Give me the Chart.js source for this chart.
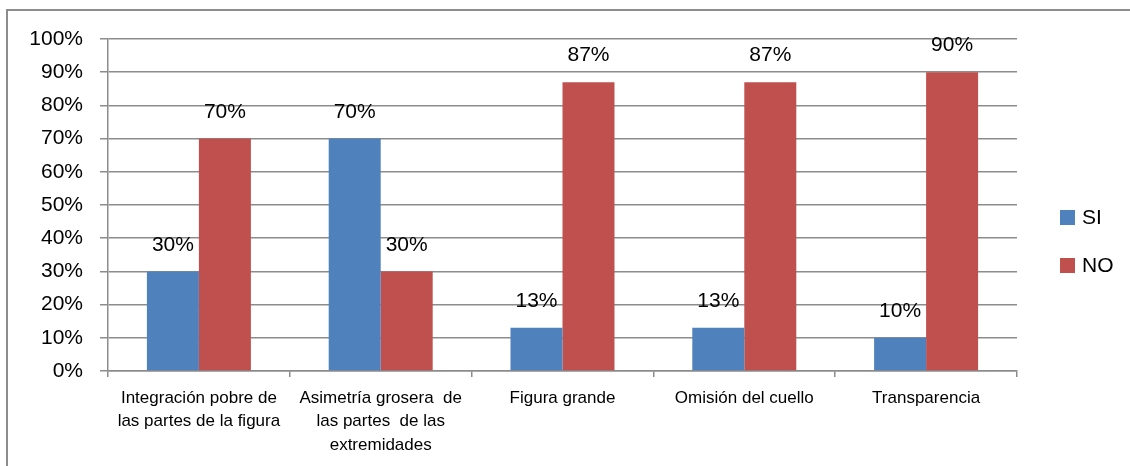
<!DOCTYPE html>
<html>
<head>
<meta charset="utf-8">
<script src="https://cdn.jsdelivr.net/npm/chart.js@4"></script>
<style>
  html, body { margin: 0; padding: 0; background: #fff; overflow: hidden; }
  #frame { position: absolute; left: 6px; top: 9px; width: 1200px; height: 520px;
           border-left: 2px solid #8c8c8c; border-top: 2px solid #8c8c8c; }
  #wrap { position: absolute; left: 0; top: 0; width: 1130px; height: 466px; }
</style>
</head>
<body>
<div id="frame"></div>
<div id="wrap"><canvas id="chart" width="1130" height="466"></canvas></div>
<script>
// categories and values
const categories = [
    ['Integración pobre de', 'las partes de la figura'],
    ['Asimetría grosera  de', 'las partes  de las', 'extremidades'],
    'Figura grande',
    'Omisión del cuello',
    'Transparencia'
];
const siValues = [30, 70, 13, 13, 10];
const noValues = [70, 30, 87, 87, 90];
const seriesNames = ['SI', 'NO'];
const seriesColors = ['#4F81BD', '#C0504D'];
const yTicks = [0, 10, 20, 30, 40, 50, 60, 70, 80, 90, 100];

const FONT = '"Liberation Sans", Arial, sans-serif';

// value labels above each bar
const barLabels = {
    id: 'barLabels',
    afterDatasetsDraw(chart) {
        const ctx = chart.ctx;
        ctx.save();
        ctx.font = '21px ' + FONT;
        ctx.fillStyle = '#000';
        ctx.textAlign = 'center';
        ctx.textBaseline = 'bottom';
        chart.data.datasets.forEach((ds, i) => {
            chart.getDatasetMeta(i).data.forEach((bar, j) => {
                ctx.fillText(ds.data[j] + '%', bar.x, bar.y - 16);
            });
        });
        ctx.restore();
    }
};

// legend on the right like the original
const sideLegend = {
    id: 'sideLegend',
    afterDraw(chart) {
        const ctx = chart.ctx;
        ctx.save();
        ctx.font = '21px ' + FONT;
        ctx.textAlign = 'left';
        ctx.textBaseline = 'middle';
        chart.data.datasets.forEach((ds, i) => {
            const y = 210 + i * 48;
            ctx.fillStyle = ds.backgroundColor;
            ctx.fillRect(1060, y, 15, 15);
            ctx.fillStyle = '#000';
            ctx.fillText(ds.label, 1082, y + 8);
        });
        ctx.restore();
    }
};

new Chart(document.getElementById('chart'), {
    type: 'bar',
    data: {
        labels: categories,
        datasets: [
            { label: seriesNames[0], data: siValues, backgroundColor: seriesColors[0] },
            { label: seriesNames[1], data: noValues, backgroundColor: seriesColors[1] }
        ]
    },
    options: {
        responsive: false,
        animation: false,
        events: [],
        layout: { padding: { top: 39, right: 113, left: 0, bottom: 0 } },
        datasets: { bar: { categoryPercentage: 0.572, barPercentage: 1.0 } },
        plugins: { legend: { display: false }, tooltip: { enabled: false } },
        scales: {
            x: {
                afterFit(scale) { scale.height = 95; },
                grid: { offset: true, drawOnChartArea: false, drawTicks: true, tickLength: 6,
                        color: '#8c8c8c', lineWidth: 1.5 },
                border: { color: '#8c8c8c', width: 1.5 },
                ticks: { color: '#000', font: { family: FONT, size: 17, lineHeight: 1.4 }, padding: 9,
                         maxRotation: 0, autoSkip: false }
            },
            y: {
                min: 0, max: 100,
                afterFit(scale) { scale.width = 108; },
                afterBuildTicks(scale) { scale.ticks = yTicks.map(v => ({ value: v })); },
                grid: { color: '#8c8c8c', lineWidth: 1.5, tickLength: 8 },
                border: { color: '#8c8c8c', width: 1.5 },
                ticks: { color: '#000', font: { family: FONT, size: 21 }, padding: 17,
                         callback: v => v + '%' }
            }
        }
    },
    plugins: [barLabels, sideLegend]
});
</script>
</body>
</html>
